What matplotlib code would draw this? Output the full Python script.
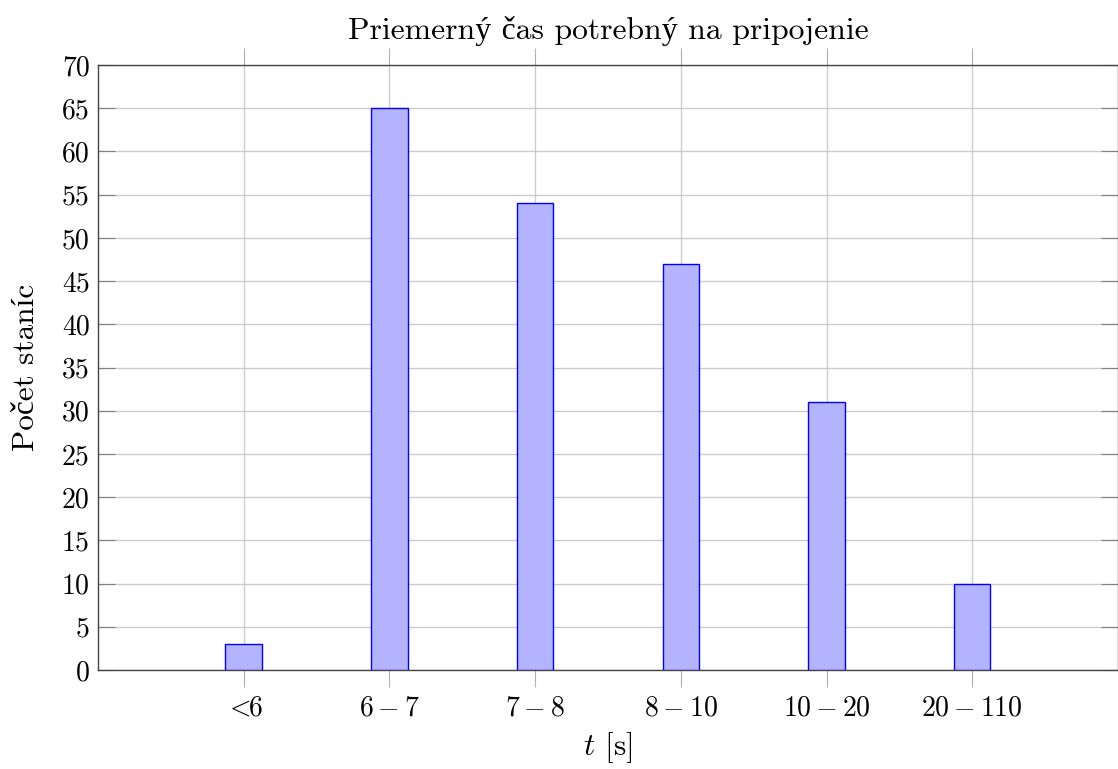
import matplotlib
matplotlib.use("Agg")
import matplotlib.pyplot as plt
import numpy as np

# cmr10 has no č, ý, í -> Liberation Serif fills those in
plt.rcParams['font.family'] = ['cmr10', 'Liberation Serif']
plt.rcParams['mathtext.fontset'] = 'cm'
plt.rcParams['axes.formatter.use_mathtext'] = True

categories = [r'$<\!\!$6', '$6-7$', '$7-8$', '$8-10$', '$10-20$', '$20-110$']
counts = [3, 65, 54, 47, 31, 10]
yticks = list(range(0, 75, 5))

fig = plt.figure(figsize=(11.18, 7.69), dpi=100)
ax = fig.add_axes([98/1118, 1-670/769, 1-98/1118, (670-65)/769])

x = np.arange(len(categories))
ax.bar(x, counts, width=0.25, color='#b3b3ff', edgecolor='#0000ff', linewidth=1.0, zorder=3)

ax.set_xlim(-1, 6)
ax.set_ylim(0, 70)
ax.set_xticks(x)
ax.set_xticklabels(categories, fontsize=20)
ax.set_yticks(yticks)
ax.set_yticklabels([str(v) for v in yticks], fontsize=20)

ax.grid(True, color='#cccccc', linewidth=1.0, zorder=0)
ax.tick_params(axis='x', direction='out', length=12, color='#b0b0b0', top=True, pad=6)
ax.tick_params(axis='y', direction='in', length=12, color='#808080', right=True, pad=6)
for s in ax.spines.values():
    s.set_color('#444444')
    s.set_linewidth(1.0)

ax.set_title('Priemerný čas potrebný na pripojenie', fontsize=22.8, pad=19)
ax.set_xlabel('$t$ [s]', fontsize=22.5, labelpad=6)
ax.set_ylabel('Počet staníc', fontsize=22.5, labelpad=16)

fig.savefig('out.png', dpi=100)
